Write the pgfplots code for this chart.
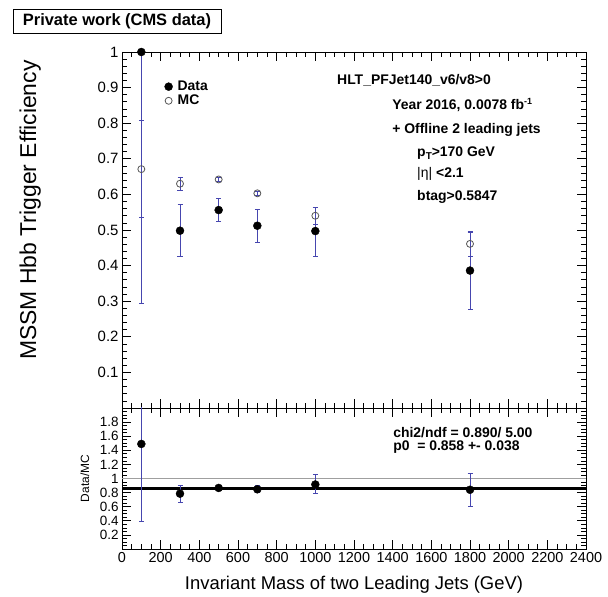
\documentclass[border=0pt]{standalone}
\usepackage{pgfplots}
\pgfplotsset{compat=1.18}
\usepackage{fontspec}
\setmainfont{Liberation Sans}
\definecolor{errblue}{RGB}{70,70,175}
\definecolor{mcgray}{RGB}{85,85,85}
\tikzset{anno/.style={anchor=west, font=\fontsize{14}{16}\selectfont\bfseries, inner sep=0pt}}
\pgfplotsset{
  rootaxis/.style={
    scale only axis, width=464bp,
    xmin=0, xmax=2400,
    xtick={0,200,...,2400}, minor x tick num=3,
    tick align=inside, tick pos=both,
    major tick length=9bp, minor tick length=5bp,
    every tick/.append style={black, line width=0.7pt},
    /pgf/number format/1000 sep={},
    /pgf/number format/assume math mode=true,
  },
  eb/.style={error bars/.cd, y dir=both, y explicit,
    error bar style={errblue, line width=0.7pt},
    error mark options={rotate=90, errblue, mark size=2.5bp, line width=0.7pt}},
}
\begin{document}
\begin{tikzpicture}
\path (0,0) rectangle (608bp,597bp);
\node[draw, line width=0.8pt, anchor=north west, inner xsep=10bp, minimum height=24bp,
      font=\fontsize{16.5}{18}\selectfont\bfseries] at (12.5bp,588bp) {Private work (CMS data)};

% ---------------- upper pad ----------------
\begin{axis}[rootaxis,
  at={(122bp,189bp)}, anchor=south west, height=356bp,
  ymin=0, ymax=1,
  xticklabels={},
  ytick={0,0.1,0.2,0.3,0.4,0.5,0.6,0.7,0.8,0.9,1},
  yticklabels={{},0.1,0.2,0.3,0.4,0.5,0.6,0.7,0.8,0.9,1},
  minor y tick num=4,
  yticklabel style={font=\fontsize{15}{16}\selectfont},
  ylabel={MSSM Hbb Trigger Efficiency},
  ylabel style={font=\fontsize{23}{24}\selectfont, at={(axis description cs:-0.198,0.556)}, anchor=center},
  clip=false,
  legend style={at={(axis description cs:0.085,0.93)}, anchor=north west, draw=none, fill=none,
    font=\fontsize{14}{15}\selectfont\bfseries, row sep=-1bp,
    nodes={inner xsep=5bp}},
  legend cell align=left,
]
\addplot[only marks, mark=*, mark size=4bp, black, eb]
coordinates {
  (100,1.000) += (0,0.0) -= (0,0.705)
  (300,0.498) += (0,0.074) -= (0,0.071)
  (500,0.556) += (0,0.032) -= (0,0.033)
  (700,0.512) += (0,0.047) -= (0,0.048)
  (1000,0.497) += (0,0.066) -= (0,0.070)
  (1800,0.386) += (0,0.108) -= (0,0.108)
};
\addlegendentry{Data}
\addplot[only marks, mark=o, mark size=3.5bp, mcgray, mark options={line width=0.8pt}, eb]
coordinates {
  (100,0.671) += (0,0.138) -= (0,0.135)
  (300,0.630) += (0,0.018) -= (0,0.019)
  (500,0.642) += (0,0.006) -= (0,0.006)
  (700,0.603) += (0,0.006) -= (0,0.006)
  (1000,0.540) += (0,0.024) -= (0,0.024)
  (1800,0.461) += (0,0.034) -= (0,0.034)
};
\addlegendentry{MC}
\node[anno] at (axis cs:1112,0.921) {HLT\_PFJet140\_v6/v8>0};
\node[anno] at (axis cs:1397,0.851) {Year 2016, 0.0078 fb\raisebox{0.7ex}{\fontsize{9}{9}\selectfont -1}};
\node[anno] at (axis cs:1397,0.781) {+ Offline 2 leading jets};
\node[anno] at (axis cs:1526,0.716) {p\raisebox{-0.45ex}{\fontsize{10}{10}\selectfont T}>170 GeV};
\node[anno] at (axis cs:1526,0.657) {{\mdseries |η|} <2.1};
\node[anno] at (axis cs:1526,0.593) {btag>0.5847};
\end{axis}

% ---------------- lower pad ----------------
\begin{axis}[rootaxis,
  at={(122bp,48bp)}, anchor=south west, height=141bp,
  ymin=0, ymax=2,
  ytick={0,0.2,0.4,0.6,0.8,1,1.2,1.4,1.6,1.8,2},
  yticklabels={{},0.2,0.4,0.6,0.8,1,1.2,1.4,1.6,1.8,{}},
  minor y tick num=3,
  yticklabel style={font=\fontsize{13.5}{12}\selectfont},
  xticklabel style={font=\fontsize{14.5}{16}\selectfont},
  xlabel={Invariant Mass of two Leading Jets (GeV)},
  xlabel style={font=\fontsize{18.5}{20}\selectfont, at={(axis description cs:0.5,-0.255)}, anchor=center},
  ylabel={Data/MC},
  ylabel style={font=\fontsize{12}{13}\selectfont, at={(axis description cs:-0.08,0.5)}, anchor=center},
]
\addplot[gray!75, line width=1.5pt, no marks] coordinates {(0,1) (2400,1)};
\addplot[black, line width=2.5pt, no marks] coordinates {(0,0.858) (2400,0.858)};
\addplot[only marks, mark=*, mark size=4bp, black, eb]
coordinates {
  (100,1.49) += (0,0.60) -= (0,1.10)
  (300,0.785) += (0,0.12) -= (0,0.12)
  (500,0.866) += (0,0.035) -= (0,0.035)
  (700,0.847) += (0,0.05) -= (0,0.05)
  (1000,0.915) += (0,0.14) -= (0,0.13)
  (1800,0.840) += (0,0.24) -= (0,0.24)
};
\node[anno] at (axis cs:1402,1.645) {chi2/ndf = 0.890/ 5.00};
\node[anno] at (axis cs:1402,1.447) {p0 \ = 0.858 +- 0.038};
\end{axis}
\end{tikzpicture}
\end{document}
